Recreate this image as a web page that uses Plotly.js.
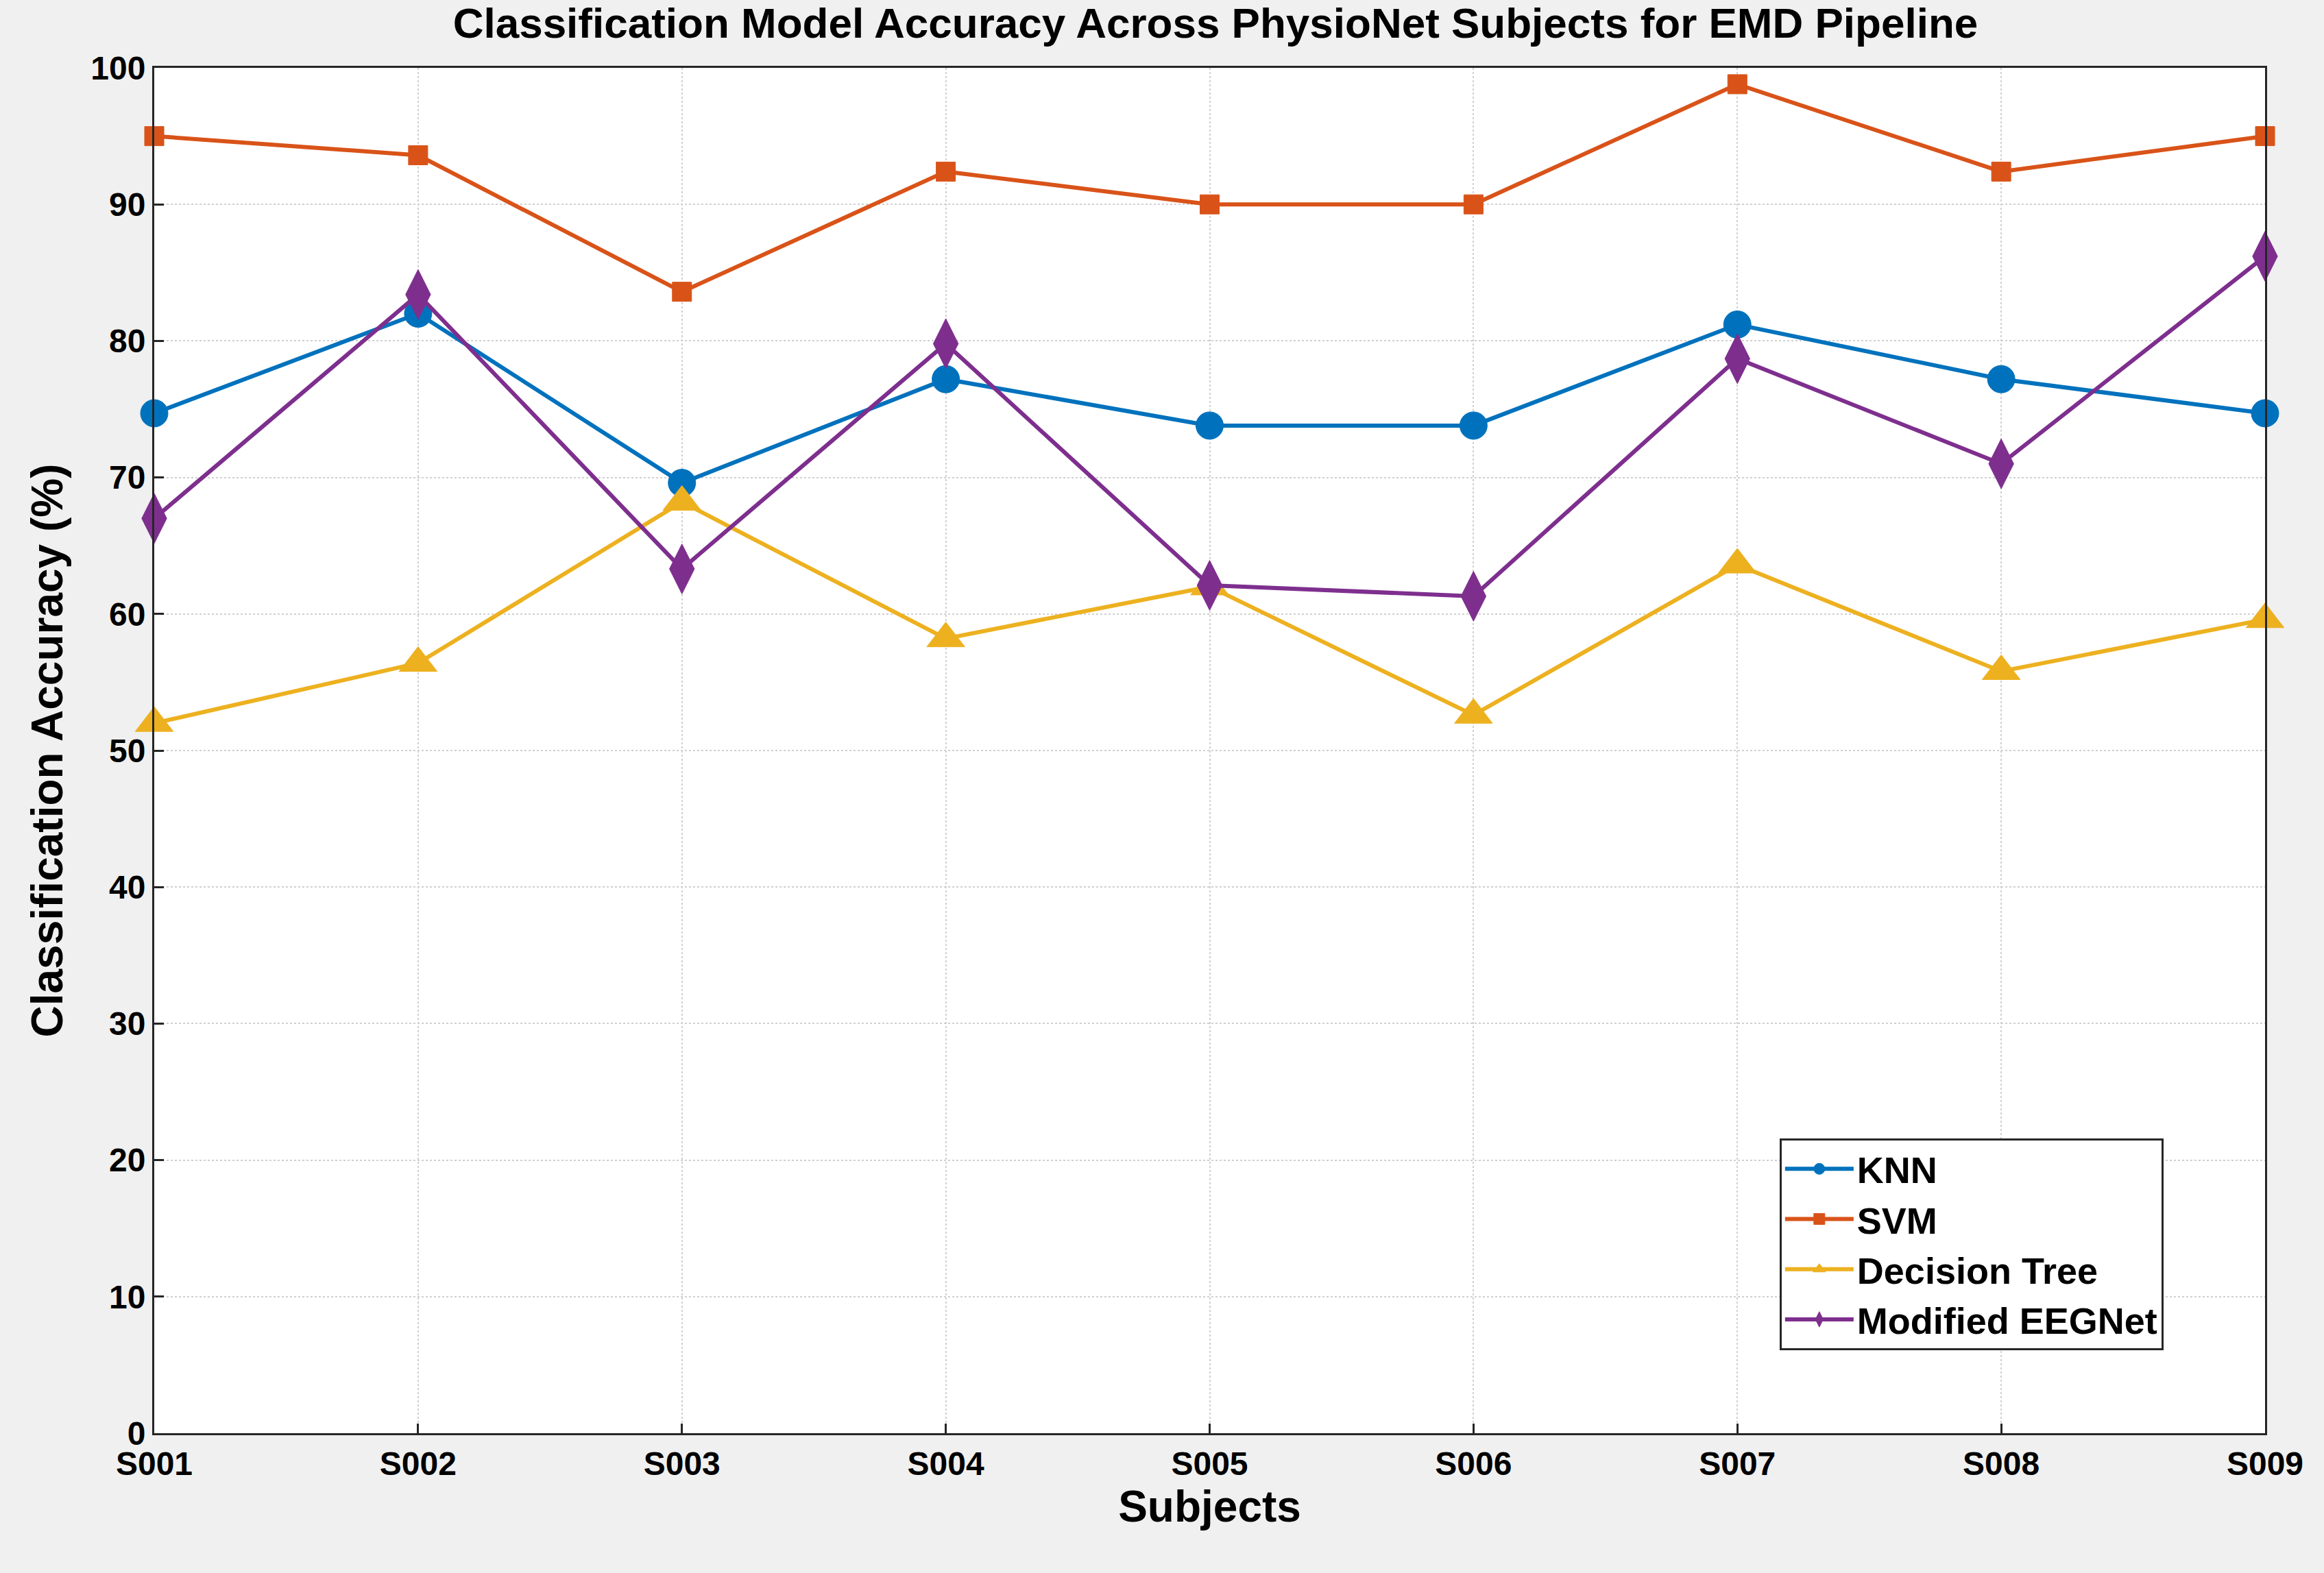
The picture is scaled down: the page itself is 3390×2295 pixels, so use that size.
<!DOCTYPE html>
<html>
<head>
<script src="https://cdn.plot.ly/plotly-3.0.1.min.js"></script>
<style>body{margin:0;background:#f0f0f0}#plot{width:3390px;height:2295px}</style>
</head>
<body>
<div id="plot"></div>
<script>
const subjects = ["S001","S002","S003","S004","S005","S006","S007","S008","S009"];
const knn = [74.7, 82, 69.6, 77.2, 73.8, 73.8, 81.2, 77.2, 74.7];
const svm = [95, 93.6, 83.6, 92.4, 90, 90, 98.8, 92.4, 95];
const dtree = [52, 56.4, 68.2, 58.2, 62, 52.6, 63.6, 55.8, 59.6];
const eegnet = [67, 83.4, 63.3, 79.8, 62.1, 61.3, 78.7, 71, 86.2];

function trace(name, y, color, symbol, size) {
  return {
    x: subjects.map((s, i) => i), y: y, name: name, type: "scatter", mode: "lines+markers",
    cliponaxis: false,
    line: { color: color, width: 6 },
    marker: { color: color, symbol: symbol, size: size, line: { color: color, width: 1 } }
  };
}

let traces = [
  trace("KNN", knn, "#0072BD", "circle", 40),
  trace("SVM", svm, "#D95319", "square", 28),
  trace("Decision Tree", dtree, "#EDB120", "triangle-up", 48),
  trace("Modified EEGNet", eegnet, "#7E2F8E", "diamond-tall", 52),
];

let axisCommon = {
  showgrid: true, gridcolor: "#d0d0d0", griddash: "dot", gridwidth: 2,
  showline: true, linecolor: "#262626", linewidth: 3, mirror: true,
  ticks: "inside", ticklen: 14, tickwidth: 3, tickcolor: "#262626",
  zeroline: false,
  tickfont: { family: "Liberation Sans", size: 48, color: "#000", weight: "bold" },
};

let layout = {
  width: 3390, height: 2295,
  paper_bgcolor: "#f0f0f0", plot_bgcolor: "#ffffff",
  margin: { l: 225, r: 86, t: 99, b: 204 },
  font: { family: "Liberation Sans", color: "#000" },
  title: { text: "<b>Classification Model Accuracy Across PhysioNet Subjects for EMD Pipeline</b>",
    font: { size: 62 }, x: 0.523, xanchor: "center", y: 0.995, yanchor: "top" },
  xaxis: Object.assign({}, axisCommon, {
    range: [0, 8], tickmode: "array", tickvals: subjects.map((s, i) => i), ticktext: subjects,
    title: { text: "<b>Subjects</b>", font: { size: 64 }, standoff: 10 }
  }),
  yaxis: Object.assign({}, axisCommon, {
    range: [0, 100], dtick: 10,
    title: { text: "<b>Classification Accuracy (%)</b>", font: { size: 64 }, standoff: 20 }
  }),
  showlegend: true,
  legend: {
    x: 0.77, y: 0.216, xanchor: "left", yanchor: "top",
    bgcolor: "#fff", bordercolor: "#262626", borderwidth: 3,
    font: { size: 54, weight: "bold" }, itemwidth: 100, tracegroupgap: 0
  }
};

Plotly.newPlot("plot", traces, layout, { displayModeBar: false });
</script>
</body>
</html>
